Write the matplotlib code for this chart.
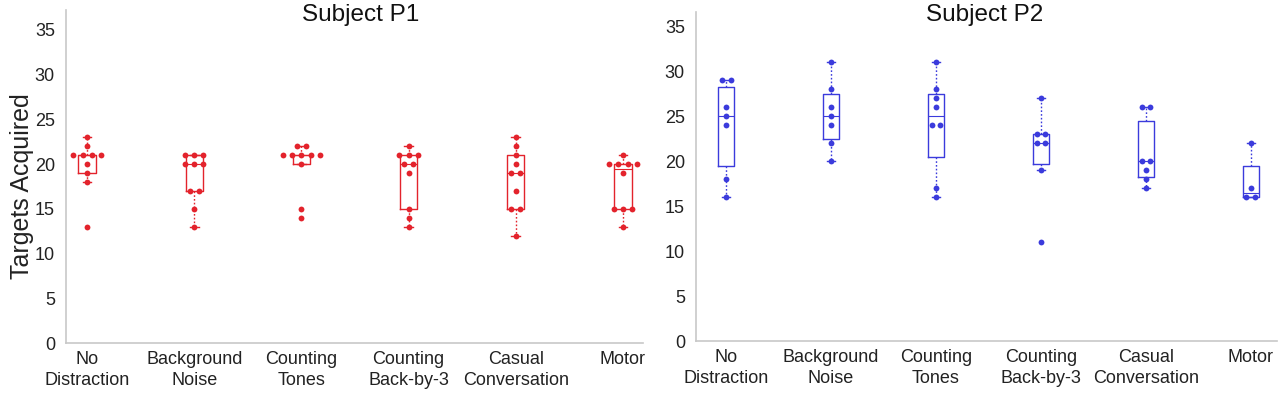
import numpy as np
import matplotlib
matplotlib.use("Agg")
import matplotlib.pyplot as plt

plt.rcParams['font.family'] = ['Liberation Sans', 'DejaVu Sans']

# conditions (x axis)
conditions = ["No\nDistraction", "Background\nNoise", "Counting\nTones",
              "Counting\nBack-by-3", "Casual\nConversation", "Motor"]

# targets acquired per trial, subject P1
p1_no_distraction = [23, 22, 21, 21, 21, 21, 20, 19, 18, 13]
p1_background = [21, 21, 21, 20, 20, 20, 17, 17, 15, 13]
p1_tones = [22, 22, 21, 21, 21, 21, 21, 20, 15, 14]
p1_back3 = [22, 21, 21, 21, 20, 20, 19, 15, 14, 13]
p1_casual = [23, 22, 21, 20, 19, 19, 17, 15, 15, 12]
p1_motor = [21, 20, 20, 20, 20, 19, 15, 15, 15, 13]

# targets acquired per trial, subject P2
p2_no_distraction = [29, 29, 26, 25, 24, 18, 16]
p2_background = [31, 28, 26, 25, 24, 22, 20]
p2_tones = [31, 28, 27, 26, 24, 24, 17, 16]
p2_back3 = [27, 23, 23, 22, 22, 19, 11]
p2_casual = [26, 26, 20, 20, 19, 18, 17]
p2_motor = [22, 17, 16, 16]

p1_data = [p1_no_distraction, p1_background, p1_tones, p1_back3, p1_casual, p1_motor]
p2_data = [p2_no_distraction, p2_background, p2_tones, p2_back3, p2_casual, p2_motor]

RED = '#e3232c'
BLUE = '#3b3bdc'


def box_stats(vals):
    # matlab style quartiles (hazen) and 1.5 IQR whiskers
    v = np.sort(np.asarray(vals, float))
    q1, med, q3 = np.percentile(v, [25, 50, 75], method='hazen')
    iqr = q3 - q1
    lo = v[v >= q1 - 1.5 * iqr].min()
    hi = v[v <= q3 + 1.5 * iqr].max()
    return dict(med=med, q1=q1, q3=q3, whislo=lo, whishi=hi, fliers=[])


def draw_panel(ax, data, color, title, title_x, title_y, xlim, ylim):
    stats = [box_stats(d) for d in data]
    pos = np.arange(1, len(data) + 1)
    ax.bxp(stats, positions=pos, widths=0.16, showfliers=False,
           boxprops=dict(color=color, lw=1.0),
           medianprops=dict(color=color, lw=0.8),
           whiskerprops=dict(color=color, lw=1.0, ls=(0, (1.2, 1.5))),
           capprops=dict(color=color, lw=1.0), capwidths=0.08)
    # dots, ties spread sideways
    for p, d in zip(pos, data):
        vals, counts = np.unique(d, return_counts=True)
        for v, n in zip(vals, counts):
            offs = (np.arange(n) - (n - 1) / 2) * 0.085
            ax.plot(p + offs, [v] * n, 'o', color=color, ms=4.2, mew=0, zorder=3)
    ax.set_xlim(*xlim)
    ax.set_ylim(*ylim)
    ax.set_yticks(range(0, 36, 5))
    ax.set_xticks(pos)
    ax.set_xticklabels(conditions, fontsize=13, color='#222222', linespacing=1.3)
    ax.tick_params(axis='y', labelsize=13, labelcolor='#222222', length=0, pad=8)
    ax.tick_params(axis='x', length=0, pad=6)
    for s in ['top', 'right']:
        ax.spines[s].set_visible(False)
    for s in ['left', 'bottom']:
        ax.spines[s].set_color('#c8c8c8')
        ax.spines[s].set_linewidth(1.2)
    ax.text(title_x, title_y, title, transform=ax.transAxes, ha='center',
            va='center', fontsize=17.5, color='#111111')


fig = plt.figure(figsize=(12.8, 3.93), dpi=100)
ax1 = fig.add_axes([0.0516, 0.1272, 0.451, 0.847])
ax2 = fig.add_axes([0.5438, 0.1323, 0.454, 0.837])

draw_panel(ax1, p1_data, RED, "Subject P1", 0.51, 0.985, (0.804, 6.19), (0, 37.2))
draw_panel(ax2, p2_data, BLUE, "Subject P2", 0.497, 0.99, (0.714, 6.25), (0, 36.6))

ax1.set_ylabel("Targets Acquired", fontsize=18, color='#222222')
ax1.yaxis.set_label_coords(-0.056, 0.47)

fig.savefig("out.png", dpi=100)
